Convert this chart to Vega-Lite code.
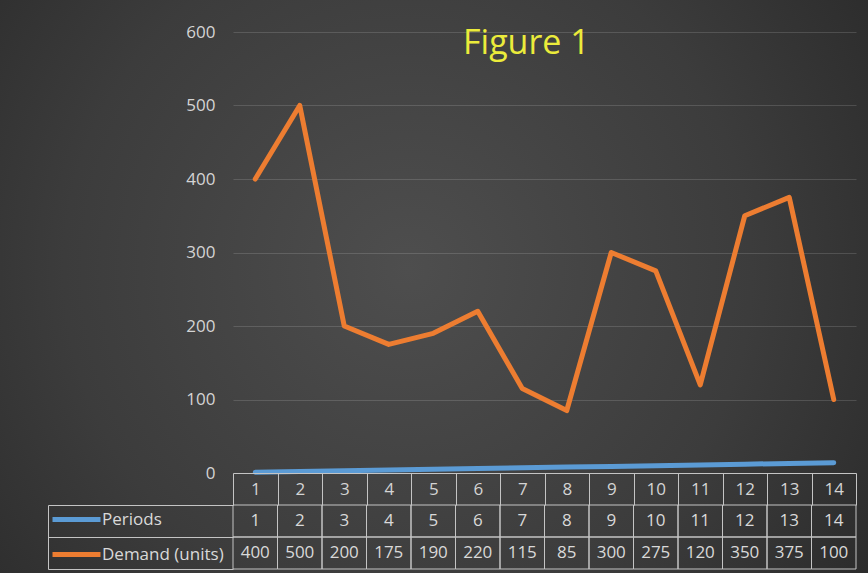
{
  "$schema": "https://vega.github.io/schema/vega-lite/v6.json",
  "width": 868,
  "height": 573,
  "autosize": {"type": "none"},
  "padding": 0,
  "background": "#262626",
  "title": {
    "text": "Figure 1",
    "anchor": "start",
    "frame": "group",
    "offset": 0,
    "dx": 463,
    "dy": 88,
    "baseline": "alphabetic",
    "color": "#ebeb3b",
    "font": "Open Sans",
    "fontSize": 34,
    "fontWeight": "normal"
  },
  "config": {
    "view": {
      "stroke": null,
      "fill": {
        "gradient": "radial",
        "x1": 0.47, "y1": 0.48, "r1": 0,
        "x2": 0.47, "y2": 0.48, "r2": 0.72,
        "stops": [
          {"offset": 0, "color": "#4e4e4e"},
          {"offset": 0.55, "color": "#3c3c3c"},
          {"offset": 1, "color": "#262626"}
        ]
      }
    },
    "axis": {"labelFont": "Open Sans", "labelFontSize": 17, "labelColor": "#d4d4d4", "title": null}
  },
  "data": {
    "values": [
      {"period": 1, "Periods": 1, "Demand (units)": 400},
      {"period": 2, "Periods": 2, "Demand (units)": 500},
      {"period": 3, "Periods": 3, "Demand (units)": 200},
      {"period": 4, "Periods": 4, "Demand (units)": 175},
      {"period": 5, "Periods": 5, "Demand (units)": 190},
      {"period": 6, "Periods": 6, "Demand (units)": 220},
      {"period": 7, "Periods": 7, "Demand (units)": 115},
      {"period": 8, "Periods": 8, "Demand (units)": 85},
      {"period": 9, "Periods": 9, "Demand (units)": 300},
      {"period": 10, "Periods": 10, "Demand (units)": 275},
      {"period": 11, "Periods": 11, "Demand (units)": 120},
      {"period": 12, "Periods": 12, "Demand (units)": 350},
      {"period": 13, "Periods": 13, "Demand (units)": 375},
      {"period": 14, "Periods": 14, "Demand (units)": 100}
    ]
  },
  "transform": [{"fold": ["Periods", "Demand (units)"], "as": ["series", "value"]}],
  "layer": [
    {
      "layer": [
        {
          "mark": {"type": "rect", "filled": false, "stroke": "#c4c4c4", "strokeWidth": 1},
          "encoding": {
            "x": {"field": "period", "type": "ordinal"},
            "y": {"field": "series", "type": "nominal"}
          }
        },
        {
          "mark": {"type": "text", "font": "Open Sans", "fontSize": 17, "color": "#d9d9d9", "baseline": "middle", "align": "center"},
          "encoding": {
            "x": {"field": "period", "type": "ordinal", "bandPosition": 0.5},
            "y": {"field": "series", "type": "nominal", "bandPosition": 0.5},
            "text": {"field": "value", "type": "quantitative"}
          }
        }
      ],
      "encoding": {
        "x": {
          "field": "period", "type": "ordinal",
          "scale": {"type": "band", "range": [233, 856], "paddingInner": 0, "paddingOuter": 0},
          "axis": {
            "orient": "bottom", "offset": -100, "labelAngle": 0,
            "tickBand": "extent", "tickSize": 32, "tickColor": "#c4c4c4", "domainColor": "#c4c4c4",
            "labelPadding": -16, "labelBaseline": "middle", "grid": false
          }
        },
        "y": {
          "field": "series", "type": "nominal",
          "scale": {"type": "band", "domain": ["Periods", "Demand (units)"], "range": [505, 569], "paddingInner": 0, "paddingOuter": 0},
          "axis": {
            "orient": "left", "offset": -48, "labels": false,
            "tickBand": "extent", "tickSize": -185, "tickColor": "#c4c4c4", "domainColor": "#c4c4c4", "grid": false
          }
        }
      }
    },
    {
      "mark": {"type": "line", "strokeWidth": 5, "strokeCap": "round", "strokeJoin": "round"},
      "encoding": {
        "x": {"field": "period", "type": "ordinal", "bandPosition": 0.5},
        "y": {
          "field": "value", "type": "quantitative",
          "scale": {"domain": [0, 600], "range": [473, 32], "nice": false},
          "axis": {
            "orient": "left", "offset": -233, "values": [0, 100, 200, 300, 400, 500, 600],
            "ticks": false, "domain": false, "labelPadding": 18,
            "grid": true, "gridColor": "#ffffff", "gridOpacity": 0.14, "gridWidth": 1
          }
        },
        "color": {
          "field": "series", "type": "nominal",
          "scale": {"domain": ["Periods", "Demand (units)"], "range": ["#5b9bd5", "#ed7d31"]},
          "legend": {
            "orient": "none", "legendX": 68, "legendY": 511, "title": null, "direction": "vertical",
            "symbolType": "M-4,0H4", "symbolSize": 144, "symbolStrokeWidth": 5,
            "labelFont": "Open Sans", "labelFontSize": 17, "labelColor": "#d9d9d9",
            "labelOffset": 17, "rowPadding": 14, "padding": 0
          }
        }
      }
    }
  ],
  "resolve": {"scale": {"y": "independent"}, "axis": {"y": "independent"}}
}
